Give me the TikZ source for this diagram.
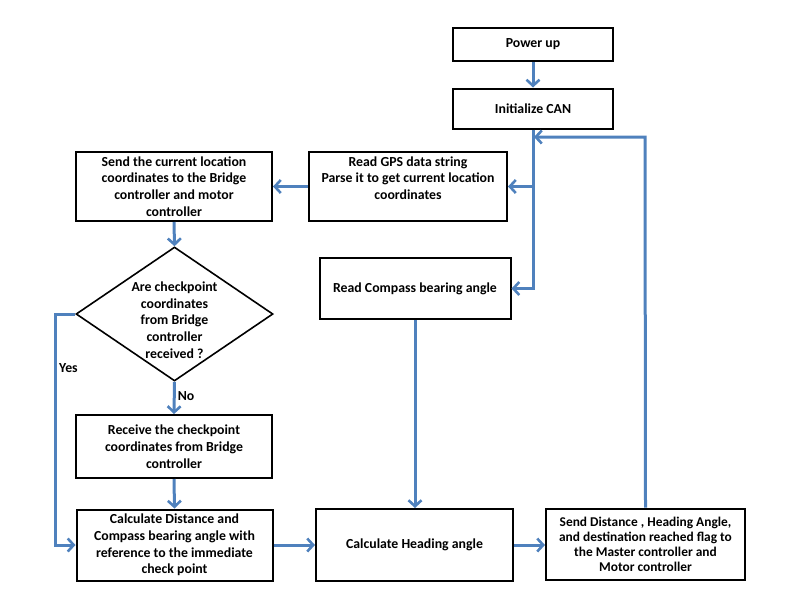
\documentclass[tikz,border=0pt]{standalone}
\usepackage{fontspec}
\setmainfont{Carlito}
\usetikzlibrary{shapes.geometric,arrows.meta}
\definecolor{flowblue}{HTML}{4F81BD}
\begin{document}
\begin{tikzpicture}[x=1pt,y=-1pt,
  box/.style={draw=black,line width=2pt,rectangle,inner sep=0pt,align=center,
    font=\fontsize{13.8}{16.7}\selectfont\bfseries},
  decision/.style={draw=black,line width=1.6pt,diamond,inner sep=0pt},
  lbl/.style={font=\fontsize{13.8}{16.7}\selectfont\bfseries,inner sep=0pt},
  conn/.style={draw=flowblue,line width=3pt},
  arr/.style={conn,-{Straight Barb[length=6pt,width=13pt,line width=2.6pt]}}
]
\useasboundingbox (0,0) rectangle (789,600);
\node[box,minimum width=160pt,minimum height=33pt] (pwr) at (533,44.5) {Power up};
\node[box,minimum width=160pt,minimum height=40pt] (can) at (533,108.5) {Initialize CAN};
\node[box,minimum width=198pt,minimum height=69pt] (gps) at (408,186.5) {Read GPS data string\\Parse it to get current location\\coordinates\\\mbox{}};
\node[box,minimum width=196pt,minimum height=69pt] (loc) at (174,186.5) {Send the current location\\coordinates to the Bridge\\controller and motor\\controller};
\node[decision,minimum width=197pt,minimum height=134pt] (dia) at (174.5,314) {};
\node[lbl,align=center] (diatext) at (174.5,320) {Are checkpoint\\coordinates\\from Bridge\\controller\\received ?};
\node[box,minimum width=191pt,minimum height=61pt] (cmp) at (415,288.5) {Read Compass bearing angle};
\node[box,minimum width=196pt,minimum height=63pt] (recv) at (174,446.5) {Receive the checkpoint\\coordinates from Bridge\\controller};
\node[box,minimum width=196pt,minimum height=71pt] (dist) at (174.5,545) {Calculate Distance and\\Compass bearing angle with\\reference to the immediate\\check point};
\node[box,minimum width=197pt,minimum height=72pt] (head) at (414.5,545) {Calculate Heading angle};
\node[box,minimum width=199pt,minimum height=71pt,font=\fontsize{13.4}{15}\selectfont\bfseries] (sd) at (645.5,544) {Send Distance , Heading Angle,\\and destination reached flag to\\the Master controller and\\Motor controller};
\node[lbl,anchor=west] (yeslbl) at (59,368) {Yes};
\coordinate (yesc) at (55,314);
\coordinate (fbtop) at (645,137);
\coordinate (fbend) at (534,137);
% connectors
\draw[arr] (pwr.south) -- (can.north);
\draw[arr] (can.south) |- (cmp.east);
\draw[arr] (can.south |- gps.east) -- (gps.east);
\draw[arr] (gps.west) -- (loc.east);
\draw[arr] (loc.south) -- (dia.north);
\draw[arr] (dia.south) -- node[lbl,right,pos=0.45,xshift=2pt] (nolbl) {No} (recv.north);
\draw[arr] (dia.west) -- (yesc) |- (dist.west);
\draw[arr] (recv.south) -- (dist.north);
\draw[arr] (cmp.south) -- (cmp.south |- head.north);
\draw[arr] (dist.east) -- (head.west);
\draw[arr] (head.east) -- (head.east -| sd.west);
\draw[arr] (sd.north) -- (fbtop) -- (fbend);
\end{tikzpicture}
\end{document}
